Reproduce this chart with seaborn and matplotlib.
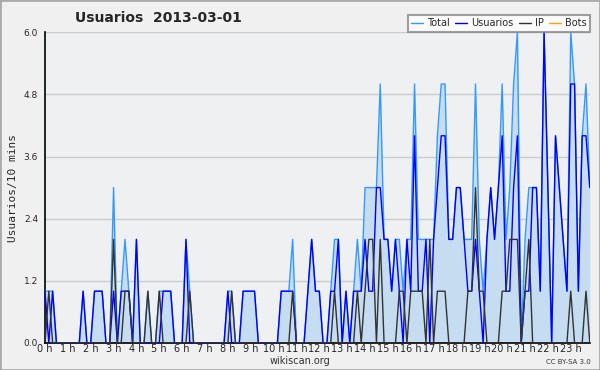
import numpy as np
import pandas as pd
import matplotlib
matplotlib.use("Agg")
import matplotlib.pyplot as plt
import seaborn as sns
from matplotlib.ticker import MultipleLocator

# valores por intervalo de 10 minutos (144 intervalos)
usuarios = [1, 0, 1, 0, 0, 0, 0, 0, 0, 0, 1, 0, 0, 1, 1, 1, 0, 0, 1, 0, 1, 1, 1, 0,
            2, 0, 0, 0, 0, 0, 0, 1, 1, 1, 0, 0, 0, 2, 0, 0, 0, 0, 0, 0, 0, 0, 0, 0,
            1, 0, 0, 0, 1, 1, 1, 1, 0, 0, 0, 0, 0, 0, 1, 1, 1, 1, 0, 0, 0, 1, 2, 1,
            1, 0, 0, 1, 1, 2, 0, 1, 0, 1, 1, 1, 2, 1, 1, 3, 3, 2, 2, 1, 2, 1, 0, 2,
            1, 4, 1, 1, 2, 0, 2, 3, 4, 4, 2, 2, 3, 3, 2, 1, 1, 2, 1, 0, 2, 3, 2, 3,
            4, 1, 1, 3, 4, 0, 1, 1, 3, 3, 1, 6, 3, 0, 4, 3, 2, 1, 5, 5, 1, 4, 4, 3]
ip = [0, 1, 0, 0, 0, 0, 0, 0, 0, 0, 0, 0, 0, 0, 0, 0, 0, 0, 2, 0, 0, 1, 1, 0,
      0, 0, 0, 1, 0, 0, 1, 0, 0, 0, 0, 0, 0, 0, 1, 0, 0, 0, 0, 0, 0, 0, 0, 0,
      0, 1, 0, 0, 0, 0, 0, 0, 0, 0, 0, 0, 0, 0, 0, 0, 0, 1, 0, 0, 0, 0, 0, 0,
      0, 0, 0, 0, 1, 0, 0, 0, 0, 0, 1, 0, 1, 2, 2, 0, 2, 0, 0, 0, 0, 1, 1, 0,
      1, 1, 1, 1, 0, 2, 0, 1, 1, 1, 0, 0, 0, 0, 0, 1, 1, 3, 1, 1, 0, 0, 0, 0,
      1, 1, 2, 2, 2, 0, 1, 2, 0, 0, 0, 0, 0, 0, 0, 0, 0, 0, 1, 0, 0, 0, 1, 0]
total = [1, 1, 1, 0, 0, 0, 0, 0, 0, 0, 1, 0, 0, 1, 1, 1, 0, 0, 3, 0, 1, 2, 1, 0,
         2, 0, 0, 1, 0, 0, 1, 1, 1, 1, 0, 0, 0, 2, 1, 0, 0, 0, 0, 0, 0, 0, 0, 0,
         1, 1, 0, 0, 1, 1, 1, 1, 0, 0, 0, 0, 0, 0, 1, 1, 1, 2, 0, 0, 0, 1, 2, 1,
         1, 0, 0, 1, 2, 2, 0, 1, 0, 1, 2, 1, 3, 3, 3, 3, 5, 2, 2, 1, 2, 2, 1, 2,
         2, 5, 2, 2, 2, 2, 2, 4, 5, 5, 2, 2, 3, 3, 2, 2, 2, 5, 2, 1, 2, 3, 2, 3,
         5, 2, 3, 5, 6, 0, 2, 3, 3, 3, 1, 6, 3, 0, 4, 3, 2, 1, 6, 5, 1, 4, 5, 3]
bots = [0] * 144

hour_labels = ["{} h".format(h) for h in range(24)]
title = "Usuarios  2013-03-01"


def plot_chart():
    df = pd.DataFrame({"hora": np.arange(144) / 6.0,
                       "Total": total, "Usuarios": usuarios, "IP": ip, "Bots": bots})

    fig = plt.figure(figsize=(6.0, 3.7), dpi=100, facecolor="#f0f0f0")
    ax = fig.add_axes([0.075, 0.073, 0.908, 0.84])
    ax.set_facecolor("#eef0f2")

    ax.fill_between(df["hora"], df["Total"], 0, color="#c6dcf0", lw=0, zorder=1)
    sns.lineplot(data=df, x="hora", y="Total", ax=ax, color="#3399ff", lw=1.0, label="Total", zorder=3)
    sns.lineplot(data=df, x="hora", y="Usuarios", ax=ax, color="#0000ff", lw=1.0, label="Usuarios", zorder=4)
    sns.lineplot(data=df, x="hora", y="IP", ax=ax, color="#333333", lw=1.0, label="IP", zorder=5)
    sns.lineplot(data=df, x="hora", y="Bots", ax=ax, color="#ffa500", lw=1.0, label="Bots", zorder=2)

    ax.set_xlim(0, 143 / 6.0)
    ax.set_ylim(0, 6.0)
    ax.set_yticks(np.arange(0, 6.01, 1.2))
    ax.set_yticklabels(["{:.1f}".format(v) for v in np.arange(0, 6.01, 1.2)], fontsize=6.5)
    ax.yaxis.set_minor_locator(MultipleLocator(0.3))
    ax.set_xticks(range(24))
    ax.set_xticklabels(hour_labels, fontsize=7)
    ax.xaxis.set_minor_locator(MultipleLocator(1 / 6.0))
    ax.tick_params(axis="x", which="both", direction="in", length=4, width=1, pad=1)
    ax.tick_params(axis="y", which="major", direction="out", length=4, pad=1)
    ax.tick_params(axis="y", which="minor", direction="in", length=3)
    ax.grid(axis="y", color="#cccccc", lw=1)
    ax.set_axisbelow(True)
    for s in ["top", "right"]:
        ax.spines[s].set_visible(False)
    for s in ["left", "bottom"]:
        ax.spines[s].set_color("black")
        ax.spines[s].set_linewidth(1.2)

    ax.set_xlabel("")
    ax.set_ylabel("Usuarios/10 mins", fontsize=8, family="DejaVu Sans Mono", labelpad=4)

    leg = ax.legend(loc="upper right", bbox_to_anchor=(1.0, 1.055), ncol=4, fontsize=7,
                    frameon=True, fancybox=False, handlelength=1.2, handletextpad=0.4,
                    columnspacing=0.6, borderpad=0.35, borderaxespad=0)
    leg.get_frame().set_edgecolor("#888888")
    leg.get_frame().set_linewidth(1.5)
    leg.get_frame().set_facecolor("white")
    leg.set_zorder(10)

    fig.text(0.125, 0.952, title, fontsize=10, fontweight="bold", va="center")
    fig.text(0.5, 0.024, "wikiscan.org", fontsize=7, ha="center", va="center", color="#333333")
    fig.text(0.985, 0.022, "CC BY-SA 3.0", fontsize=5, ha="right", va="center", color="#333333")
    fig.patches.append(plt.Rectangle((0, 0), 1, 1, transform=fig.transFigure, fill=False,
                                     edgecolor="#aaaaaa", lw=2))

    fig.savefig("out.png", dpi=100, facecolor=fig.get_facecolor())
    plt.close()
    return None


if __name__ == "__main__":
    sns.set_style("white")
    plt.rcParams["font.family"] = ["DejaVu Sans"]
    plot_chart()
